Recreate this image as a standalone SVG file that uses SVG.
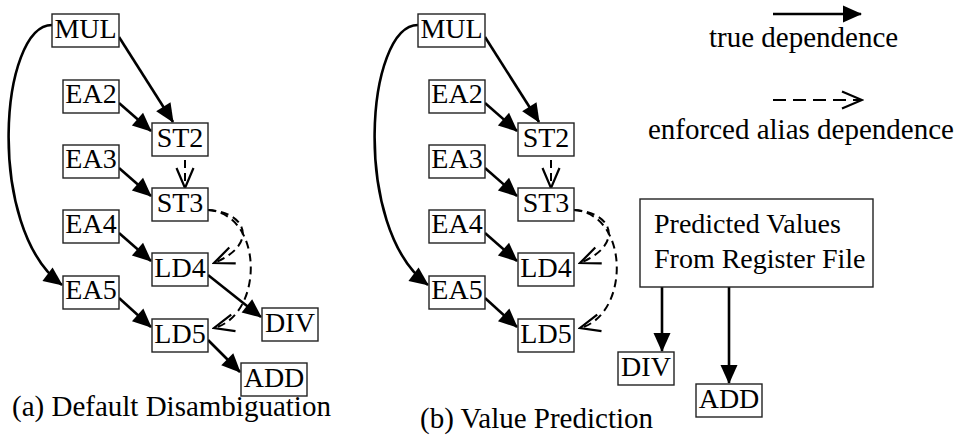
<svg xmlns="http://www.w3.org/2000/svg" width="969" height="438" viewBox="0 0 969 438">
<style>
.box{fill:#fff;stroke:#222;stroke-width:1.4}
.lbl{font-family:"Liberation Serif","Times New Roman",serif;font-size:28px;fill:#000;text-anchor:middle}
.txt{font-family:"Liberation Serif","Times New Roman",serif;font-size:29px;fill:#000}
.solid{fill:none;stroke:#000;stroke-width:2.6;marker-end:url(#fa)}
.dash{fill:none;stroke:#000;stroke-width:2;stroke-dasharray:8 5;marker-end:url(#oa)}
</style>
<defs>
<marker id="fa" markerUnits="userSpaceOnUse" viewBox="-22 -11 24 22" markerWidth="24" markerHeight="22" refX="-1" refY="0" orient="auto">
<path d="M-19,-8.5 L0,0 L-19,8.5 Z" fill="#000"/>
</marker>
<marker id="oa" markerUnits="userSpaceOnUse" viewBox="-24 -11 26 22" markerWidth="26" markerHeight="22" refX="0" refY="0" orient="auto">
<path d="M-20,-8.5 L0,0 L-20,8.5" fill="none" stroke="#000" stroke-width="2.2"/>
</marker>
</defs>
<rect width="969" height="438" fill="#fff"/>

<!-- Part (a) -->
<g id="connectors-a">
<path class="solid" d="M52,25 C0,25 -15,228 62,285"/>
<path class="solid" d="M119,37 L173,122"/>
<path class="solid" d="M119,103 L151,131"/>
<path class="solid" d="M119,168 L151,196"/>
<path class="solid" d="M119,233 L151,261"/>
<path class="solid" d="M119,298 L151,327"/>
<path class="solid" d="M208,275 L261,317"/>
<path class="solid" d="M208,340 L240,372"/>
<path class="dash" d="M185,160 L185,188"/>
<path class="dash" d="M208,210 C248,212 258,245 214,263"/>
<path class="dash" d="M208,210 C264,214 264,315 214,328"/>
</g>
<g id="a-MUL"><rect class="box" x="52" y="14" width="67" height="33"/><text class="lbl" x="85.5" y="38">MUL</text></g>
<g id="a-EA2"><rect class="box" x="63" y="80" width="56" height="33"/><text class="lbl" x="91" y="103">EA2</text></g>
<g id="a-EA3"><rect class="box" x="63" y="145" width="56" height="33"/><text class="lbl" x="91" y="168">EA3</text></g>
<g id="a-EA4"><rect class="box" x="63" y="210" width="56" height="33"/><text class="lbl" x="91" y="233">EA4</text></g>
<g id="a-EA5"><rect class="box" x="63" y="276" width="56" height="33"/><text class="lbl" x="91" y="299">EA5</text></g>
<g id="a-ST2"><rect class="box" x="152" y="123" width="56" height="33"/><text class="lbl" x="180" y="147">ST2</text></g>
<g id="a-ST3"><rect class="box" x="152" y="188" width="56" height="33"/><text class="lbl" x="180" y="212">ST3</text></g>
<g id="a-LD4"><rect class="box" x="152" y="253" width="56" height="33"/><text class="lbl" x="180" y="277">LD4</text></g>
<g id="a-LD5"><rect class="box" x="152" y="319" width="56" height="33"/><text class="lbl" x="180" y="343">LD5</text></g>
<g id="a-DIV"><rect class="box" x="262" y="308" width="56" height="33"/><text class="lbl" x="290" y="332">DIV</text></g>
<g id="a-ADD"><rect class="box" x="241" y="363" width="66" height="33"/><text class="lbl" x="274" y="387">ADD</text></g>
<text class="txt" x="12" y="416">(a) Default Disambiguation</text>

<!-- Part (b) -->
<g id="connectors-b">
<path class="solid" d="M418,25 C366,25 351,228 428,285"/>
<path class="solid" d="M485,37 L539,122"/>
<path class="solid" d="M485,103 L517,131"/>
<path class="solid" d="M485,168 L517,196"/>
<path class="solid" d="M485,233 L517,261"/>
<path class="solid" d="M485,298 L517,327"/>
<path class="dash" d="M551,160 L551,188"/>
<path class="dash" d="M574,210 C614,212 624,245 580,263"/>
<path class="dash" d="M574,210 C630,214 630,315 580,328"/>
<path class="solid" d="M662,287 L662,351"/>
<path class="solid" d="M729,287 L729,383"/>
</g>
<g id="b-MUL"><rect class="box" x="418" y="14" width="67" height="33"/><text class="lbl" x="451.5" y="38">MUL</text></g>
<g id="b-EA2"><rect class="box" x="429" y="80" width="56" height="33"/><text class="lbl" x="457" y="103">EA2</text></g>
<g id="b-EA3"><rect class="box" x="429" y="145" width="56" height="33"/><text class="lbl" x="457" y="168">EA3</text></g>
<g id="b-EA4"><rect class="box" x="429" y="210" width="56" height="33"/><text class="lbl" x="457" y="233">EA4</text></g>
<g id="b-EA5"><rect class="box" x="429" y="276" width="56" height="33"/><text class="lbl" x="457" y="299">EA5</text></g>
<g id="b-ST2"><rect class="box" x="518" y="123" width="56" height="33"/><text class="lbl" x="546" y="147">ST2</text></g>
<g id="b-ST3"><rect class="box" x="518" y="188" width="56" height="33"/><text class="lbl" x="546" y="212">ST3</text></g>
<g id="b-LD4"><rect class="box" x="518" y="253" width="56" height="33"/><text class="lbl" x="546" y="277">LD4</text></g>
<g id="b-LD5"><rect class="box" x="518" y="319" width="56" height="33"/><text class="lbl" x="546" y="343">LD5</text></g>
<g id="b-PRED"><rect class="box" x="640" y="199" width="233" height="88"/>
<text class="txt" x="654" y="233" style="font-size:28px">Predicted Values</text>
<text class="txt" x="654" y="268" style="font-size:28px">From Register File</text></g>
<g id="b-DIV"><rect class="box" x="618" y="352" width="56" height="33"/><text class="lbl" x="646" y="376">DIV</text></g>
<g id="b-ADD"><rect class="box" x="696" y="384" width="66" height="33"/><text class="lbl" x="729" y="408">ADD</text></g>
<text class="txt" x="420" y="428">(b) Value Prediction</text>

<!-- Legend -->
<g id="legend">
<path class="solid" d="M773,14 L861,14"/>
<text class="txt" x="709" y="47">true dependence</text>
<path d="M773,100 L862,100" fill="none" stroke="#000" stroke-width="2" stroke-dasharray="13 7" marker-end="url(#oa)"/>
<text class="txt" x="648" y="139">enforced alias dependence</text>
</g>
</svg>
